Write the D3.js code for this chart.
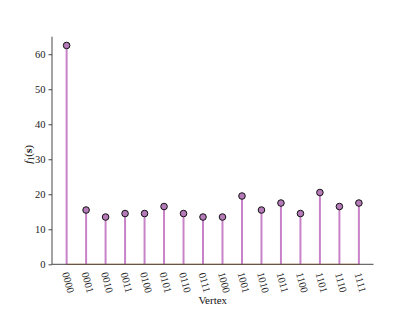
<!DOCTYPE html>
<html><head><meta charset="utf-8">
<script src="https://cdn.jsdelivr.net/npm/d3@7"></script>
<style>body{margin:0;background:#fff}svg{display:block}</style>
</head><body><svg id="c" width="415" height="311"></svg>
<script>
const vertices = ["0000","0001","0010","0011","0100","0101","0110","0111","1000","1001","1010","1011","1100","1101","1110","1111"];
const values = [62.5,15.5,13.5,14.5,14.5,16.5,14.5,13.5,13.5,19.5,15.5,17.5,14.5,20.5,16.5,17.5];
const yTicks = [0,10,20,30,40,50,60];

const svg = d3.select("#c");
const L = 52, R = 373.5, T = 36.7, B = 264.3;
const font = "'Liberation Serif','Times New Roman',serif";
const x = d3.scaleLinear().domain([-0.75, 15.75]).range([L, R]);
const y = d3.scaleLinear().domain([0, 65]).range([B, T]);

// baseline
svg.append("line").attr("x1", x(0)).attr("x2", x(15)).attr("y1", y(0)).attr("y2", y(0))
  .attr("stroke", "#f2b274").attr("stroke-width", 1.2);

// stems
svg.selectAll(".stem").data(values).enter().append("line")
  .attr("x1", (d,i)=>x(i)).attr("x2", (d,i)=>x(i))
  .attr("y1", y(0)).attr("y2", d=>y(d))
  .attr("stroke", "#c883c8").attr("stroke-width", 2);

// axes
const yAxis = d3.axisLeft(y).tickValues(yTicks).tickSize(3.5).tickPadding(3);
const gy = svg.append("g").attr("transform", `translate(${L},0)`).call(yAxis);
gy.select(".domain").attr("d", `M0,${T}V${B}`).attr("stroke", "#333").attr("stroke-width", 0.9);
gy.selectAll(".tick line").attr("stroke", "#333").attr("stroke-width", 0.9);
gy.selectAll(".tick text").attr("font-family", font).attr("font-size", 10.5).attr("fill", "#222");

const xAxis = d3.axisBottom(x).tickValues(d3.range(16)).tickFormat(i=>vertices[i]).tickSize(0).tickPadding(0);
const gx = svg.append("g").attr("transform", `translate(0,${B})`).call(xAxis);
gx.select(".domain").attr("d", `M${L},0H${R}`).attr("stroke", "#333").attr("stroke-width", 0.9);
gx.selectAll(".tick text").attr("font-family", font).attr("font-size", 10.5).attr("fill", "#222")
  .attr("text-anchor", "middle").attr("dy", null).attr("y", null)
  .attr("transform", "translate(0,18.5) rotate(75)").attr("dominant-baseline", "middle");

// markers
svg.selectAll(".mk").data(values).enter().append("circle")
  .attr("cx", (d,i)=>x(i)).attr("cy", d=>y(d)).attr("r", 3.3)
  .attr("fill", "#b57bb8").attr("stroke", "#111").attr("stroke-width", 1);

// labels
svg.append("text").attr("x", (L+R)/2).attr("y", 304).attr("text-anchor", "middle")
  .attr("font-family", font).attr("font-size", 11).attr("fill", "#111").text("Vertex");
const yl = svg.append("text").attr("transform", `translate(32,${(T+B)/2+4}) rotate(-90)`)
  .attr("text-anchor", "middle").attr("font-family", font).attr("font-size", 11).attr("fill", "#111");
yl.append("tspan").attr("font-style", "italic").text("f");
yl.append("tspan").attr("font-size", 8).attr("dy", 2).text("1");
yl.append("tspan").attr("dy", -2).text("(");
yl.append("tspan").attr("font-weight", "bold").text("s");
yl.append("tspan").text(")");
</script></body></html>
